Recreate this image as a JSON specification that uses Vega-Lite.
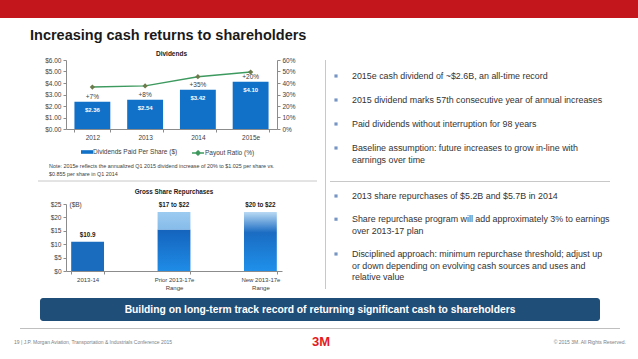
{
  "$schema": "https://vega.github.io/schema/vega-lite/v6.json",
  "padding": 0,
  "background": "white",
  "spacing": 0,
  "resolve": {"scale": {"fill": "independent", "stroke": "independent"}, "legend": {"fill": "independent", "stroke": "independent"}},
  "config": {
    "view": {"stroke": null},
    "font": "Liberation Sans",
    "axis": {"labelColor": "#404040", "labelFontSize": 6.5, "domainColor": "#8c8c8c", "tickColor": "#8c8c8c", "tickSize": 3, "grid": false, "labelPadding": 2, "labelOverlap": false},
    "legend": {"labelColor": "#404040", "labelFontSize": 6.5},
    "title": {"color": "#1a1a1a", "fontWeight": "bold"}
  },
  "datasets": {
    "dividends": [
      {"year": "2012", "dps": 2.36, "payout": 0.365, "growth": "+7%"},
      {"year": "2013", "dps": 2.54, "payout": 0.375, "growth": "+8%"},
      {"year": "2014", "dps": 3.42, "payout": 0.455, "growth": "+35%"},
      {"year": "2015e", "dps": 4.10, "payout": 0.495, "growth": "+20%"}
    ],
    "repurchases": [
      {"period": "2013-14", "lo": 0, "hi": 10.9, "part": "actual"},
      {"period": "Prior 2013-17e Range", "lo": 0, "hi": 15.5, "part": "base"},
      {"period": "Prior 2013-17e Range", "lo": 15.5, "hi": 22, "part": "upper"},
      {"period": "New 2013-17e Range", "lo": 0, "hi": 22, "part": "range"}
    ],
    "repLabels": [
      {"period": "2013-14", "top": 10.9, "label": "$10.9"},
      {"period": "Prior 2013-17e Range", "top": 22, "label": "$17 to $22"},
      {"period": "New 2013-17e Range", "top": 22, "label": "$20 to $22"}
    ],
    "bullets1": [
      {"line": 0, "start": true, "text": "2015e cash dividend of ~$2.6B, an all-time record"},
      {"line": 2, "start": true, "text": "2015 dividend marks 57th consecutive year of annual increases"},
      {"line": 4, "start": true, "text": "Paid dividends without interruption for 98 years"},
      {"line": 6, "start": true, "text": "Baseline assumption: future increases to grow in-line with"},
      {"line": 7, "start": false, "text": "earnings over time"}
    ],
    "bullets2": [
      {"line": 0, "start": true, "text": "2013 share repurchases of $5.2B and $5.7B in 2014"},
      {"line": 2, "start": true, "text": "Share repurchase program will add approximately 3% to earnings"},
      {"line": 3, "start": false, "text": "over 2013-17 plan"},
      {"line": 5, "start": true, "text": "Disciplined approach: minimum repurchase threshold; adjust up"},
      {"line": 6, "start": false, "text": "or down depending on evolving cash sources and uses and"},
      {"line": 7, "start": false, "text": "relative value"}
    ]
  },
  "vconcat": [
    {"width": 638, "height": 18, "view": {"fill": "#c3161c", "stroke": null}, "data": {"values": []}, "mark": "point"},
    {"width": 638, "height": 32, "data": {"values": [{"t": "Increasing cash returns to shareholders"}]},
     "mark": {"type": "text", "align": "left", "baseline": "alphabetic", "dy": 6, "fontSize": 14.5, "fontWeight": "bold", "color": "#1a1a1a"},
     "encoding": {"x": {"value": 30}, "text": {"field": "t"}}},
    {
      "spacing": 0,
      "resolve": {"scale": {"fill": "independent", "stroke": "independent"}, "legend": {"fill": "independent", "stroke": "independent"}},
      "hconcat": [
        {"width": 37, "height": 1, "data": {"values": []}, "mark": "point"},
        {
          "spacing": 0,
          "resolve": {"scale": {"fill": "independent", "stroke": "independent"}, "legend": {"fill": "independent", "stroke": "independent"}},
          "vconcat": [
            {
              "width": 211, "height": 69,
              "title": {"text": "Dividends", "fontSize": 6.5, "offset": -6, "baseline": "bottom"},
              "data": {"name": "dividends"},
              "encoding": {
                "x": {"field": "year", "type": "ordinal", "sort": null,
                      "scale": {"domain": ["2012", "2013", "2014", "2015e"], "paddingInner": 0.32, "paddingOuter": 0.16},
                      "axis": {"title": null, "labelAngle": 0, "tickBand": "extent"}}
              },
              "layer": [
                {
                  "layer": [
                    {"mark": {"type": "bar"},
                     "encoding": {
                       "y": {"field": "dps", "type": "quantitative", "scale": {"domain": [0, 6], "nice": false},
                             "axis": {"title": null, "tickCount": 6, "format": "$.2f", "labelOverlap": false}},
                       "fill": {"datum": "Dividends Paid Per Share ($)", "scale": {"range": ["#1170c8"]},
                                "legend": {"orient": "none", "legendX": 17, "legendY": 88, "title": null, "symbolType": "M-1.5,-0.45H1.5V0.45H-1.5Z", "symbolSize": 64, "symbolStrokeWidth": 0, "labelOffset": 2}}
                     }},
                    {"mark": {"type": "text", "baseline": "top", "dy": 5, "color": "white", "fontWeight": "bold", "fontSize": 6},
                     "encoding": {"y": {"field": "dps", "type": "quantitative"}, "text": {"field": "dps", "type": "quantitative", "format": "$.2f"}}},
                    {"mark": {"type": "text", "baseline": "bottom", "dy": -2, "color": "#404040", "fontSize": 6.5},
                     "encoding": {"y": {"field": "dps", "type": "quantitative"}, "text": {"field": "growth"}}}
                  ]
                },
                {
                  "layer": [
                    {"mark": {"type": "line", "strokeWidth": 1.5},
                     "encoding": {
                       "y": {"field": "payout", "type": "quantitative", "scale": {"domain": [0, 0.6], "nice": false},
                             "axis": {"title": null, "orient": "right", "tickCount": 6, "format": ".0%", "labelOverlap": false}},
                       "stroke": {"datum": "Payout Ratio (%)", "scale": {"range": ["#3d9a5f"]},
                                  "legend": {"orient": "none", "legendX": 127, "legendY": 88, "title": null, "symbolType": "M-1.5,0H1.5M0,-0.55L0.55,0L0,0.55L-0.55,0Z", "symbolSize": 64, "symbolFillColor": "#6d7b4c", "symbolStrokeWidth": 1.3, "labelOffset": 2}}
                     }},
                    {"mark": {"type": "point", "shape": "diamond", "filled": true, "size": 28, "color": "#6d7b4c", "opacity": 1},
                     "encoding": {"y": {"field": "payout", "type": "quantitative"}}}
                  ]
                }
              ],
              "resolve": {"scale": {"y": "independent"}}
            },
            {"width": 211, "height": 16,
             "data": {"values": [{"t": "Note: 2015e reflects the annualized Q1 2015 dividend increase of 20% to $1.025 per share vs.\n$0.855 per share in Q1 2014"}]},
             "mark": {"type": "text", "align": "left", "baseline": "middle", "fontSize": 5.4, "lineHeight": 8.3, "lineBreak": "\n", "color": "#404040"},
             "encoding": {"x": {"value": -17}, "text": {"field": "t"}}},
            {"width": 211, "height": 3, "data": {"values": [{}]},
             "mark": {"type": "rule", "color": "#c8c8c8", "strokeWidth": 1},
             "encoding": {"x": {"value": -28}, "x2": {"value": 251}, "y": {"value": 3}}},
            {"width": 1, "height": 7, "data": {"values": []}, "mark": "point"},
            {
              "width": 216, "height": 67,
              "title": {"text": "Gross Share Repurchases", "fontSize": 6.3, "offset": -0.5, "baseline": "bottom"},
              "data": {"name": "repurchases"},
              "encoding": {
                "x": {"field": "period", "type": "nominal", "sort": null,
                      "scale": {"domain": ["2013-14", "Prior 2013-17e Range", "New 2013-17e Range"], "paddingInner": 0.62, "paddingOuter": 0.06},
                      "axis": {"title": null, "labelAngle": 0, "tickBand": "extent", "labelFontSize": 6,
                               "labelExpr": "indexof(datum.label, ' Range') > 0 ? [replace(datum.label, ' Range', ''), 'Range'] : datum.label"}}
              },
              "layer": [
                {"transform": [{"filter": "datum.part == 'actual'"}],
                 "mark": {"type": "bar", "color": "#1a6cbf"},
                 "encoding": {
                   "y": {"field": "lo", "type": "quantitative", "scale": {"domain": [0, 25], "nice": false},
                         "axis": {"tickCount": 5, "format": "$.0f", "labelOverlap": false, "title": "($B)", "titleAngle": 0, "titleAlign": "left", "titleBaseline": "top", "titleX": 3, "titleY": -3, "titleFontWeight": "normal", "titleFontSize": 6.5, "titleColor": "#404040"}},
                   "y2": {"field": "hi"}
                 }},
                {"transform": [{"filter": "datum.part == 'base'"}],
                 "mark": {"type": "bar", "color": {"gradient": "linear", "x1": 0, "y1": 0, "x2": 0, "y2": 1, "stops": [{"offset": 0, "color": "#1463bc"}, {"offset": 1, "color": "#1f8ce6"}]}},
                 "encoding": {"y": {"field": "lo", "type": "quantitative"}, "y2": {"field": "hi"}}},
                {"transform": [{"filter": "datum.part == 'upper'"}],
                 "mark": {"type": "bar", "color": {"gradient": "linear", "x1": 0, "y1": 0, "x2": 0, "y2": 1, "stops": [{"offset": 0, "color": "#9ccbf0"}, {"offset": 1, "color": "#86bcea"}]}},
                 "encoding": {"y": {"field": "lo", "type": "quantitative"}, "y2": {"field": "hi"}}},
                {"transform": [{"filter": "datum.part == 'range'"}],
                 "mark": {"type": "bar", "color": {"gradient": "linear", "x1": 0, "y1": 0, "x2": 0, "y2": 1, "stops": [{"offset": 0, "color": "#b9d9f4"}, {"offset": 0.35, "color": "#1a6cc2"}, {"offset": 1, "color": "#1f90ea"}]}},
                 "encoding": {"y": {"field": "lo", "type": "quantitative"}, "y2": {"field": "hi"}}},
                {"data": {"name": "repLabels"},
                 "mark": {"type": "text", "baseline": "bottom", "dy": -4, "fontWeight": "bold", "fontSize": 6.3, "color": "#1a1a1a"},
                 "encoding": {"y": {"field": "top", "type": "quantitative"}, "text": {"field": "label"}}}
              ]
            }
          ]
        },
        {"width": 7, "height": 1, "data": {"values": []}, "mark": "point"},
        {"width": 1, "height": 229, "view": {"fill": "#c8c8c8"}, "data": {"values": []}, "mark": "point"},
        {"width": 4, "height": 1, "data": {"values": []}, "mark": "point"},
        {
          "spacing": 0,
          "vconcat": [
            {"width": 280, "height": 112, "data": {"name": "bullets1"},
             "encoding": {"y": {"field": "line", "type": "quantitative", "scale": {"domain": [-1.3333, 8], "reverse": true, "nice": false, "zero": false}, "axis": null}},
             "layer": [
               {"transform": [{"filter": "datum.start"}],
                "mark": {"type": "point", "shape": "square", "filled": true, "size": 10, "color": "#7595c3", "opacity": 1},
                "encoding": {"x": {"value": 6}}},
               {"mark": {"type": "text", "align": "left", "baseline": "middle", "fontSize": 8.9, "color": "#333333"},
                "encoding": {"x": {"value": 22}, "text": {"field": "text"}}}
             ]},
            {"width": 1, "height": 9, "data": {"values": []}, "mark": "point"},
            {"width": 280, "height": 1, "view": {"fill": "#c8c8c8"}, "data": {"values": []}, "mark": "point"},
            {"width": 280, "height": 107, "data": {"name": "bullets2"},
             "encoding": {"y": {"field": "line", "type": "quantitative", "scale": {"domain": [-1.207, 8.017], "reverse": true, "nice": false, "zero": false}, "axis": null}},
             "layer": [
               {"transform": [{"filter": "datum.start"}],
                "mark": {"type": "point", "shape": "square", "filled": true, "size": 10, "color": "#7595c3", "opacity": 1},
                "encoding": {"x": {"value": 6}}},
               {"mark": {"type": "text", "align": "left", "baseline": "middle", "fontSize": 8.9, "color": "#333333"},
                "encoding": {"x": {"value": 22}, "text": {"field": "text"}}}
             ]}
          ]
        }
      ]
    },
    {"width": 1, "height": 8, "data": {"values": []}, "mark": "point"},
    {
      "spacing": 0,
      "hconcat": [
        {"width": 40, "height": 1, "data": {"values": []}, "mark": "point"},
        {"width": 560, "height": 23, "view": {"fill": "#1f4e79", "cornerRadius": 3},
         "data": {"values": [{"t": "Building on long-term track record of returning significant cash to shareholders"}]},
         "mark": {"type": "text", "color": "white", "fontSize": 10.3, "fontWeight": "bold", "baseline": "middle"},
         "encoding": {"text": {"field": "t"}}}
      ]
    },
    {"width": 1, "height": 7, "data": {"values": []}, "mark": "point"},
    {
      "spacing": 0,
      "hconcat": [
        {"width": 20, "height": 1, "data": {"values": []}, "mark": "point"},
        {"width": 600, "height": 1, "view": {"fill": "#bfbfbf"}, "data": {"values": []}, "mark": "point"}
      ]
    },
    {"width": 1, "height": 6, "data": {"values": []}, "mark": "point"},
    {
      "spacing": 0,
      "hconcat": [
        {"width": 12, "height": 1, "data": {"values": []}, "mark": "point"},
        {"width": 294, "height": 14, "data": {"values": [{"t": "19   |  J.P. Morgan Aviation, Transportation & Industrials Conference 2015"}]},
         "mark": {"type": "text", "align": "left", "baseline": "middle", "fontSize": 5, "color": "#808080"},
         "encoding": {"x": {"value": 2}, "text": {"field": "t"}}},
        {"width": 30, "height": 14, "data": {"values": [{"t": "3M"}]},
         "mark": {"type": "text", "align": "center", "baseline": "middle", "fontSize": 13, "fontWeight": 900, "color": "#e31b23"},
         "encoding": {"text": {"field": "t"}}},
        {"width": 290, "height": 14, "data": {"values": [{"t": "© 2015 3M. All Rights Reserved."}]},
         "mark": {"type": "text", "align": "right", "baseline": "middle", "fontSize": 5, "color": "#808080"},
         "encoding": {"x": {"value": 290}, "text": {"field": "t"}}}
      ]
    }
  ]
}
